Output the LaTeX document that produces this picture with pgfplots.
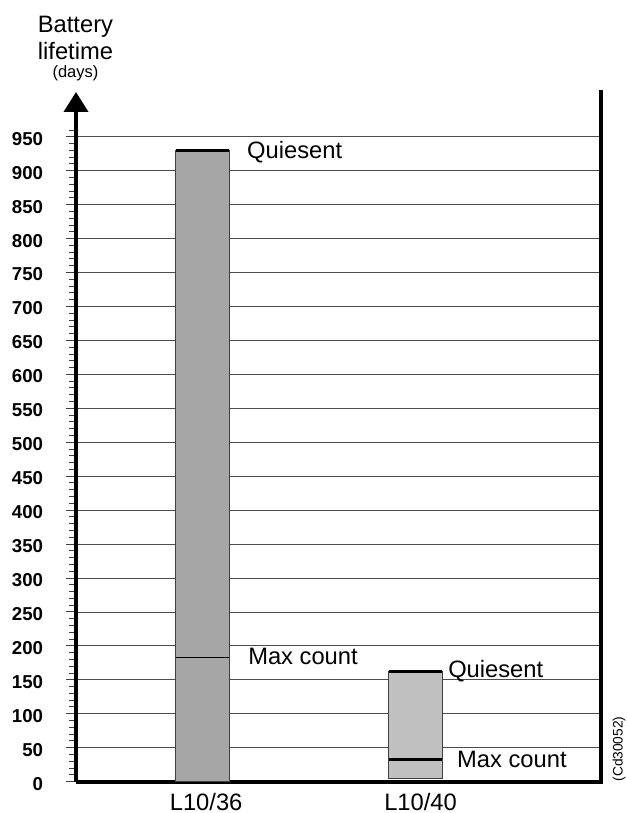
\documentclass[border=0pt]{standalone}
\usepackage{pgfplots}
\pgfplotsset{compat=1.18}
\usepackage{fontspec}
\setmainfont{Liberation Sans}
\usetikzlibrary{arrows.meta}
\definecolor{barA}{HTML}{A6A6A6}
\definecolor{barB}{HTML}{C0C0C0}
\definecolor{edgec}{HTML}{404040}
\newcommand{\lbl}{\fontsize{17.8}{21}\selectfont}
\begin{document}
\begin{tikzpicture}
\begin{axis}[
  at={(57pt,23.55pt)}, anchor=south west, scale only axis,
  width=393.75pt, height=517.2pt,
  xmin=0.4047, xmax=2.875, ymin=0, ymax=1016,
  axis x line=bottom, axis y line=left,
  x axis line style={-, line width=3pt},
  y axis line style={-{Triangle[width=18pt,length=15pt]}, line width=3pt},
  ytick={0,50,...,950},
  minor ytick={0,10,...,960},
  tick align=outside,
  major tick length=7.5pt, minor tick length=5.5pt,
  every tick/.style={edgec, line width=0.7pt},
  ymajorgrids,
  grid style={black!70, line width=0.6pt},
  xtick={1.017,2.026},
  xticklabels={L10/36, L10/40},
  x tick style={draw=none},
  xticklabel style={font=\lbl, inner sep=0pt, anchor=north, yshift=-1pt},
  yticklabel style={font=\fontsize{14}{16}\selectfont\bfseries, inner sep=0pt, anchor=east, xshift=-17pt, yshift=-1.5pt},
  /pgf/number format/assume math mode=true,
  clip=false,
]
% bar L10/36
\addplot[fill=barA, draw=edgec, line width=0.8pt] coordinates {(0.875,0) (0.875,930) (1.125,930) (1.125,0)} -- cycle;
% bar L10/40
\addplot[fill=barB, draw=edgec, line width=0.8pt] coordinates {(1.876,5) (1.876,162) (2.127,162) (2.127,5)} -- cycle;
% Quiesent / Max count markers
\addplot[black, line width=2.2pt] coordinates {(0.875,930) (1.125,930)};
\addplot[black, line width=1.3pt] coordinates {(0.875,183) (1.125,183)};
\addplot[black, line width=2.2pt] coordinates {(1.876,162) (2.127,162)};
\addplot[black, line width=2.2pt] coordinates {(1.876,33) (2.127,33)};
% right frame line
\draw[line width=3pt, line cap=rect] (rel axis cs:1,0) -- (rel axis cs:1,1);
\node[anchor=west, inner sep=0pt, font=\lbl] at (axis cs:1.209,928) {Quiesent};
\node[anchor=west, inner sep=0pt, font=\lbl] at (axis cs:1.214,184) {Max count};
\node[anchor=west, inner sep=0pt, font=\lbl] at (axis cs:2.155,163) {Quiesent};
\node[anchor=west, inner sep=0pt, font=\lbl] at (axis cs:2.197,33) {Max count};
\end{axis}
\node[anchor=base, inner sep=0pt, font=\lbl] at (56.6pt,585pt) {Battery};
\node[anchor=base, inner sep=0pt, font=\lbl] at (56.6pt,564.75pt) {lifetime};
\node[anchor=base, inner sep=0pt, font=\fontsize{12.4}{14}\selectfont] at (56.6pt,551.6pt) {(days)};
\node[rotate=90, inner sep=0pt, font=\fontsize{10.3}{12}\selectfont] at (464.25pt,48pt) {(Cd30052)};
\pgfresetboundingbox
\path[use as bounding box] (0,0) rectangle (470.25pt,609.75pt);
\end{tikzpicture}
\end{document}
